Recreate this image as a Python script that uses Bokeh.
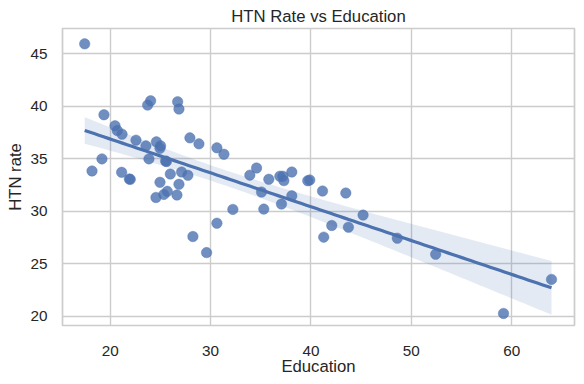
import numpy as np
from bokeh.plotting import figure
from bokeh.models import Range1d, FixedTicker
from bokeh.embed import file_html
from bokeh.resources import INLINE

education = [17.46, 24.03, 23.73, 26.72, 26.85, 19.38, 20.48, 20.71, 21.18, 22.57,
             23.56, 24.60, 25.02, 24.96, 27.94, 28.84, 30.63, 31.33, 19.18, 23.86,
             25.52, 25.60, 18.19, 21.14, 21.91, 22.00, 25.99, 27.11, 27.74, 24.96,
             26.85, 24.56, 25.35, 25.69, 26.65, 28.24, 30.63, 29.60, 32.22, 33.91,
             34.58, 35.80, 35.07, 35.30, 36.90, 37.20, 37.30, 38.09, 38.09, 37.06,
             39.68, 39.88, 41.15, 43.47, 42.07, 43.73, 41.27, 45.19, 48.60, 52.42,
             59.18, 63.96]
htn_rate = [45.95, 40.53, 40.12, 40.44, 39.74, 39.20, 38.15, 37.70, 37.35, 36.78,
            36.24, 36.62, 36.24, 36.00, 37.00, 36.43, 36.05, 35.44, 35.00, 35.00,
            34.80, 34.75, 33.85, 33.72, 33.08, 33.05, 33.56, 33.75, 33.44, 32.77,
            32.58, 31.33, 31.62, 31.91, 31.56, 27.61, 28.88, 26.08, 30.19, 33.45,
            34.13, 33.06, 31.84, 30.22, 33.35, 33.34, 32.93, 33.75, 31.49, 30.70,
            32.92, 32.99, 31.94, 31.75, 28.66, 28.50, 27.55, 29.65, 27.45, 25.92,
            20.29, 23.53]
x_ticks = [20, 30, 40, 50, 60]
y_ticks = [20, 25, 30, 35, 40, 45]

# OLS fit and 95% CI for the mean (as seaborn regplot)
x = np.array(education)
y = np.array(htn_rate)
n = len(x)
b1, b0 = np.polyfit(x, y, 1)
resid = y - (b0 + b1 * x)
s = np.sqrt(np.sum(resid ** 2) / (n - 2))
sxx = np.sum((x - x.mean()) ** 2)
xs = np.linspace(x.min(), x.max(), 100)
ys = b0 + b1 * xs
half = 1.95 * s * np.sqrt(1.0 / n + (xs - x.mean()) ** 2 / sxx)

FONT = "Liberation Sans"
TXT = "#262626"
BLUE = "#4C72B0"

p = figure(width=584, height=384, output_backend="svg", toolbar_location=None,
           x_range=Range1d(15.25, 66.25), y_range=Range1d(19.14, 47.41),
           title="HTN Rate vs Education",
           min_border_left=62, min_border_right=10, min_border_top=28, min_border_bottom=59)

p.title.align = "center"
p.title.vertical_align = "bottom"
p.title.text_font = FONT
p.title.text_font_size = "16.7px"
p.title.text_font_style = "normal"
p.title.text_color = TXT
p.title.standoff = 6

p.background_fill_color = "white"
p.border_fill_color = "white"
p.outline_line_color = "#cccccc"
p.outline_line_width = 1.7

for ax in (p.xaxis, p.yaxis):
    ax.axis_line_color = None
    ax.major_tick_line_color = None
    ax.minor_tick_line_color = None
    ax.major_tick_out = 0
    ax.major_tick_in = 0
    ax.major_label_text_font = FONT
    ax.major_label_text_font_size = "15.3px"
    ax.major_label_text_color = TXT
    ax.axis_label_text_font = FONT
    ax.axis_label_text_font_size = "16.7px"
    ax.axis_label_text_font_style = "normal"
    ax.axis_label_text_color = TXT

p.xaxis.ticker = FixedTicker(ticks=x_ticks)
p.yaxis.ticker = FixedTicker(ticks=y_ticks)
p.xaxis.axis_label = "Education"
p.yaxis.axis_label = "HTN rate"
p.xaxis.major_label_standoff = 20
p.xaxis.axis_label_standoff = -2
p.yaxis.major_label_standoff = 15
p.yaxis.axis_label_standoff = 2

p.xgrid.grid_line_color = "#cccccc"
p.ygrid.grid_line_color = "#cccccc"
p.xgrid.grid_line_width = 1.4
p.ygrid.grid_line_width = 1.4

p.scatter(x=education, y=htn_rate, size=10.5, fill_color=BLUE, fill_alpha=0.8,
          line_color=BLUE, line_alpha=0.8, line_width=0.5)
p.varea(x=xs, y1=ys - half, y2=ys + half, fill_color=BLUE, fill_alpha=0.15)
p.line(xs, ys, line_color=BLUE, line_width=3.2)

open("out.html", "w").write(file_html(p, INLINE))
